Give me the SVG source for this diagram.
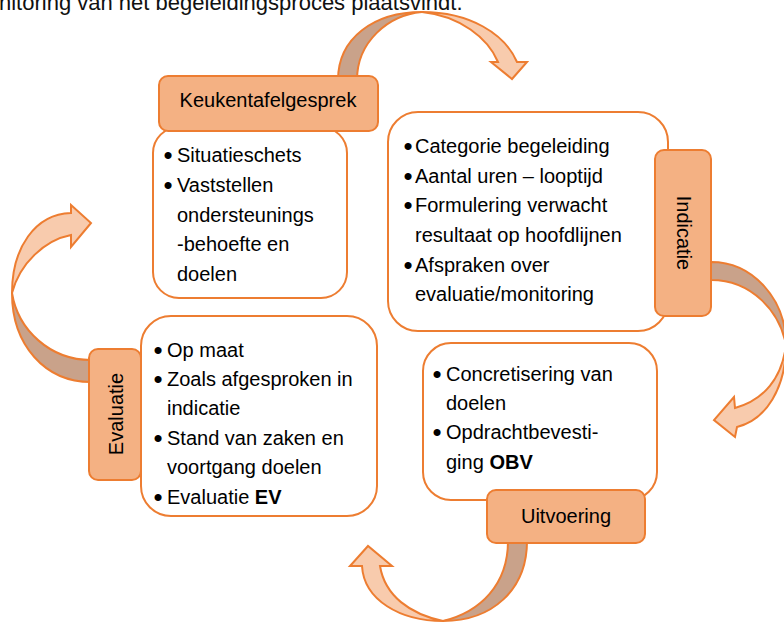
<svg xmlns="http://www.w3.org/2000/svg" width="784" height="622" viewBox="0 0 784 622">
<style>
text{font-family:"Liberation Sans",Arial,sans-serif;fill:#000}
.t{font-size:20px}
.lbl{font-size:20px;text-anchor:middle}
.bul{font-size:26px;text-anchor:middle}
.box{fill:#fff;stroke:#ED7D31;stroke-width:2}
.tag{fill:#F4B183;stroke:#ED7D31;stroke-width:2}
.dark{fill:#C9A28A;stroke:#ED7D31;stroke-width:2;stroke-linejoin:round}
.light{fill:#F8CBAD;stroke:#ED7D31;stroke-width:2;stroke-linejoin:miter}
</style>
<rect width="784" height="622" fill="#fff"/>
<text x="-1" y="10" style="font-size:22px;fill:#111">nitoring van het begeleidingsproces plaatsvindt.</text>

<g id="connectors">
  <g id="arrow-top">
    <path class="dark" d="M338,80 C338,38 374,12 422,12 C388,15 357,42 357,80 Z"/>
    <path class="light" d="M422,12 C470,12 505,34 517,62 L527,62 L512,79 L491,62 L498,62 C488,38 460,16 422,12 Z"/>
  </g>
  <g id="arrow-right">
    <path class="dark" d="M711,262 C752,262 786,298 786,345 C780,312 752,280 711,280 Z"/>
    <path class="light" d="M786,345 C786,388 766,420 737,427 L735,437 L714,420 L734,397 L735,408 C764,400 782,378 786,345 Z"/>
  </g>
  <g id="arrow-bottom">
    <path class="dark" d="M527,541 C527,590 492,621 443,621 C480,612 508,585 508,541 Z"/>
    <path class="light" d="M443,621 C400,621 364,600 362,566 L350,566 L368,546 L392,566 L380,566 C385,596 410,614 443,621 Z"/>
  </g>
  <g id="arrow-left">
    <path class="dark" d="M91,382 C45,382 12,345 12,293 C18,330 50,360 91,360 Z"/>
    <path class="light" d="M12,293 C12,248 35,214 71,213 L71,205 L91,223 L71,247 L71,235 C45,240 20,263 12,293 Z"/>
  </g>
</g>

<g id="node-keukentafelgesprek">
  <rect class="box" x="153" y="127" width="194" height="171" rx="26"/>
  <rect class="tag" x="159" y="76" width="219" height="55" rx="9"/>
  <text class="lbl" x="268" y="107">Keukentafelgesprek</text>
  <text class="bul" x="168" y="164">•</text>
  <text class="t" x="177" y="162">Situatieschets</text>
  <text class="bul" x="168" y="194">•</text>
  <text class="t" x="177" y="192">Vaststellen</text>
  <text class="t" x="177" y="221.5">ondersteunings</text>
  <text class="t" x="177" y="251">-behoefte en</text>
  <text class="t" x="177" y="280.5">doelen</text>
</g>

<g id="node-indicatie">
  <rect class="box" x="388" y="112" width="280" height="219" rx="30"/>
  <rect class="tag" x="655" y="150" width="56" height="166" rx="9"/>
  <text class="lbl" transform="translate(684,233) rotate(90)" x="0" y="7">Indicatie</text>
  <text class="bul" x="408" y="155">•</text>
  <text class="t" x="415" y="153">Categorie begeleiding</text>
  <text class="bul" x="408" y="184.7">•</text>
  <text class="t" x="415" y="182.7">Aantal uren – looptijd</text>
  <text class="bul" x="408" y="214.4">•</text>
  <text class="t" x="415" y="212.4">Formulering verwacht</text>
  <text class="t" x="415" y="242">resultaat op hoofdlijnen</text>
  <text class="bul" x="408" y="273.7">•</text>
  <text class="t" x="415" y="271.7">Afspraken over</text>
  <text class="t" x="415" y="301.4">evaluatie/monitoring</text>
</g>

<g id="node-uitvoering">
  <rect class="box" x="423" y="343" width="234" height="157" rx="28"/>
  <rect class="tag" x="487" y="490" width="158" height="53" rx="9"/>
  <text class="lbl" x="566" y="523">Uitvoering</text>
  <text class="bul" x="437" y="382.7">•</text>
  <text class="t" x="446" y="380.7">Concretisering van</text>
  <text class="t" x="446" y="410">doelen</text>
  <text class="bul" x="437" y="441.3">•</text>
  <text class="t" x="446" y="439.3">Opdrachtbevesti-</text>
  <text class="t" x="446" y="468.5">ging <tspan font-weight="bold">OBV</tspan></text>
</g>

<g id="node-evaluatie">
  <rect class="box" x="141" y="316" width="236" height="200" rx="30"/>
  <rect class="tag" x="89" y="349" width="52" height="131" rx="9"/>
  <text class="lbl" transform="translate(116,414) rotate(-90)" x="0" y="7">Evaluatie</text>
  <text class="bul" x="158" y="358.7">•</text>
  <text class="t" x="167" y="356.7">Op maat</text>
  <text class="bul" x="158" y="388">•</text>
  <text class="t" x="167" y="386">Zoals afgesproken in</text>
  <text class="t" x="167" y="415.3">indicatie</text>
  <text class="bul" x="158" y="447">•</text>
  <text class="t" x="167" y="445">Stand van zaken en</text>
  <text class="t" x="167" y="474.3">voortgang doelen</text>
  <text class="bul" x="158" y="506">•</text>
  <text class="t" x="167" y="504">Evaluatie <tspan font-weight="bold">EV</tspan></text>
</g>
</svg>
